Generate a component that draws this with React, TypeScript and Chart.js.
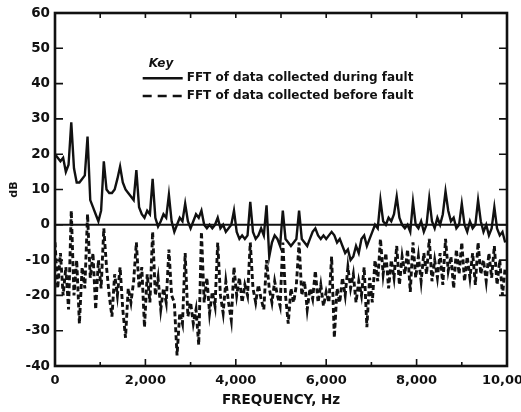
import { useEffect, useRef } from "react";
import { Chart, registerables } from "chart.js";

Chart.register(...registerables);

// Frequency grid spacing of the sampled spectra (Hz)
const FREQ_STEP_HZ = 60;

// FFT of data collected during fault (dB), one value per FREQ_STEP_HZ from 0 Hz
const duringFault = [
  20, 19, 18, 19, 15, 17,
  29, 16, 12, 12, 13, 14,
  25, 7, 5, 3, 1, 4,
  18, 10, 9, 9, 10, 13,
  16.5, 12, 10, 9, 8, 7,
  15.5, 5, 3, 2, 4, 3,
  13, 2, -0.5, 1, 3, 2,
  8.5, 1, -2, 0, 2, 1,
  6, 1, -1, 1, 3, 2,
  4, 0, -1, 0, -1, 0,
  2, -1, 0, -2, -1, 0,
  4, -2, -4, -3, -4, -3,
  6.5, -2, -4, -3, -1, -3,
  5.5, -9, -5, -3, -4, -6,
  4, -4, -5, -6, -5, -4,
  4, -4, -5, -6, -4, -2,
  -1, -3, -4, -3, -4, -3,
  -2, -3, -5, -4, -6, -8,
  -7, -10, -9, -6, -8, -4,
  -3, -6, -4, -2, 0, -1,
  7, 1, 0, 2, 1, 3,
  8, 2, 0, -1, 0, -2,
  6.5, 0, -1, 1, -2, 0,
  7.5, 1, -1, 2, 0, 3,
  9.5, 4, 1, 2, -1, 0,
  6, 0, -2, 1, -1, 0,
  7, 1, -2, 0, -3, -1,
  5, -1, -3, -2, -5,
];

// FFT of data collected before fault (dB), same frequency grid
const beforeFault = [
  -5, -18, -8, -20, -12, -24,
  4, -20, -10, -28, -12, -18,
  3, -15, -8, -24, -10, -18,
  -1, -12, -20, -26, -14, -20,
  -12, -24, -32, -18, -22, -16,
  -5, -18, -12, -29, -14, -22,
  -2, -20, -15, -24, -18, -22,
  -7, -20, -22, -37, -25, -28,
  -8, -26, -22, -28, -24, -34,
  -2, -22, -15, -25, -19, -23,
  -5, -20, -25, -16, -22, -27,
  -12, -20, -15, -22, -17, -20,
  -5, -18, -22, -17, -21, -24,
  -10, -18, -22, -16, -20, -23,
  -5, -20, -28, -18, -22, -17,
  -5, -20, -16, -24, -18, -21,
  -13, -22, -17, -23, -19, -22,
  -9, -32, -18, -22, -15, -20,
  -12, -18, -14, -22, -16, -20,
  -12, -29, -15, -22, -10, -16,
  -4, -14, -8, -18, -10, -15,
  -6, -17, -9, -14, -7, -19,
  -5, -15, -9, -16, -8, -14,
  -4, -16, -10, -15, -8, -17,
  -4, -13, -9, -18, -7, -14,
  -5, -16, -9, -15, -8, -17,
  -5, -14, -10, -16, -8, -15,
  -6, -17, -10, -20, -12,
];

const SERIES_LABELS = [
  "FFT of data collected during fault",
  "FFT of data collected before fault",
];
const LEGEND_TITLE = "Key";
const X_TITLE = "FREQUENCY, Hz";
const Y_TITLE = "dB";

const X_MIN = 0;
const X_MAX = 10000;
const X_MAJOR_STEP = 2000;
const X_MINOR_STEP = 1000;
const Y_MIN = -40;
const Y_MAX = 60;
const Y_STEP = 10;

const INK = "#111111";
const FONT = "'DejaVu Sans', sans-serif";

const toPoints = (vals: number[]) =>
  vals.map((v, i) => ({ x: i * FREQ_STEP_HZ, y: v }));

const framePlugin = {
  id: "frameTicksLegend",
  afterDatasetsDraw(chart: any) {
    const { ctx, chartArea: a, scales } = chart;
    const xs = scales.x;
    const ys = scales.y;
    ctx.save();
    ctx.strokeStyle = INK;
    ctx.fillStyle = INK;
    ctx.setLineDash([]);

    // zero reference line
    const y0 = ys.getPixelForValue(0);
    ctx.lineWidth = 2;
    ctx.beginPath();
    ctx.moveTo(a.left, y0);
    ctx.lineTo(a.right, y0);
    ctx.stroke();

    // frame
    ctx.lineWidth = 2.6;
    ctx.strokeRect(a.left, a.top, a.right - a.left, a.bottom - a.top);

    // inward ticks, x
    ctx.lineWidth = 1.6;
    for (let v = X_MIN; v <= X_MAX; v += X_MINOR_STEP) {
      const px = xs.getPixelForValue(v);
      const len = v % X_MAJOR_STEP === 0 ? 7 : 4;
      ctx.beginPath();
      ctx.moveTo(px, a.bottom);
      ctx.lineTo(px, a.bottom - len);
      ctx.moveTo(px, a.top);
      ctx.lineTo(px, a.top + 5);
      ctx.stroke();
    }
    // inward ticks, y
    for (let v = Y_MIN; v <= Y_MAX; v += Y_STEP) {
      const py = ys.getPixelForValue(v);
      ctx.beginPath();
      ctx.moveTo(a.left, py);
      ctx.lineTo(a.left + 8, py);
      ctx.moveTo(a.right, py);
      ctx.lineTo(a.right - 8, py);
      ctx.stroke();
    }

    // legend ("Key")
    const lx = xs.getPixelForValue(1940);
    const ky = ys.getPixelForValue(45.5);
    ctx.font = `italic bold 12px ${FONT}`;
    ctx.textBaseline = "middle";
    ctx.textAlign = "left";
    ctx.fillText(LEGEND_TITLE, lx + 6, ky);
    chart.data.datasets.forEach((ds: any, i: number) => {
      const ry = ys.getPixelForValue(41.5 - i * 5);
      ctx.lineWidth = 2.6;
      ctx.setLineDash(i === 0 ? [] : [9, 6]);
      ctx.beginPath();
      ctx.moveTo(lx, ry);
      ctx.lineTo(lx + 40, ry);
      ctx.stroke();
      ctx.setLineDash([]);
      ctx.font = `bold 12px ${FONT}`;
      ctx.fillText(ds.label, lx + 44, ry);
    });
    ctx.restore();
  },
};

export default function App() {
  const ref = useRef<HTMLCanvasElement | null>(null);

  useEffect(() => {
    document.body.style.margin = "0";
    const canvas = ref.current;
    if (!canvas) return;
    const chart = new Chart(canvas, {
      type: "line",
      data: {
        datasets: [
          {
            label: SERIES_LABELS[0],
            data: toPoints(duringFault),
            borderColor: INK,
            borderWidth: 2.4,
            pointRadius: 0,
            tension: 0,
            fill: false,
          },
          {
            label: SERIES_LABELS[1],
            data: toPoints(beforeFault),
            borderColor: INK,
            borderWidth: 2.9,
            borderDash: [5, 3],
            pointRadius: 0,
            tension: 0,
            fill: false,
          },
        ],
      },
      options: {
        animation: false,
        responsive: true,
        maintainAspectRatio: false,
        layout: { padding: { left: 0, top: 13, right: 14, bottom: 0 } },
        plugins: {
          legend: { display: false },
          tooltip: { enabled: false },
        },
        scales: {
          x: {
            type: "linear",
            min: X_MIN,
            max: X_MAX,
            border: { display: false },
            grid: { display: false, drawTicks: false },
            ticks: {
              stepSize: X_MAJOR_STEP,
              padding: 7,
              color: INK,
              maxRotation: 0,
              autoSkip: false,
              font: { family: FONT, weight: "bold", size: 13 },
              callback: (v: any) => Number(v).toLocaleString("en-US"),
            },
            title: {
              display: true,
              text: X_TITLE,
              color: INK,
              padding: { top: 4, bottom: 3 },
              font: { family: FONT, weight: "bold", size: 13.5 },
            },
            afterFit: (s: any) => {
              s.height = 46;
              s.paddingLeft = 0;
              s.paddingRight = 0;
            },
          },
          y: {
            type: "linear",
            min: Y_MIN,
            max: Y_MAX,
            border: { display: false },
            grid: { display: false, drawTicks: false },
            ticks: {
              stepSize: Y_STEP,
              padding: 5,
              color: INK,
              font: { family: FONT, weight: "bold", size: 13.5 },
            },
            title: {
              display: true,
              text: Y_TITLE,
              color: INK,
              padding: { top: 8, bottom: 0 },
              font: { family: FONT, weight: "bold", size: 11 },
            },
            afterFit: (s: any) => {
              s.width = 55;
              s.paddingTop = 0;
              s.paddingBottom = 0;
            },
          },
        },
      },
      plugins: [framePlugin],
    });
    return () => chart.destroy();
  }, []);

  return (
    <div style={{ position: "relative", width: 521, height: 412, background: "#fff" }}>
      <canvas ref={ref} />
    </div>
  );
}
